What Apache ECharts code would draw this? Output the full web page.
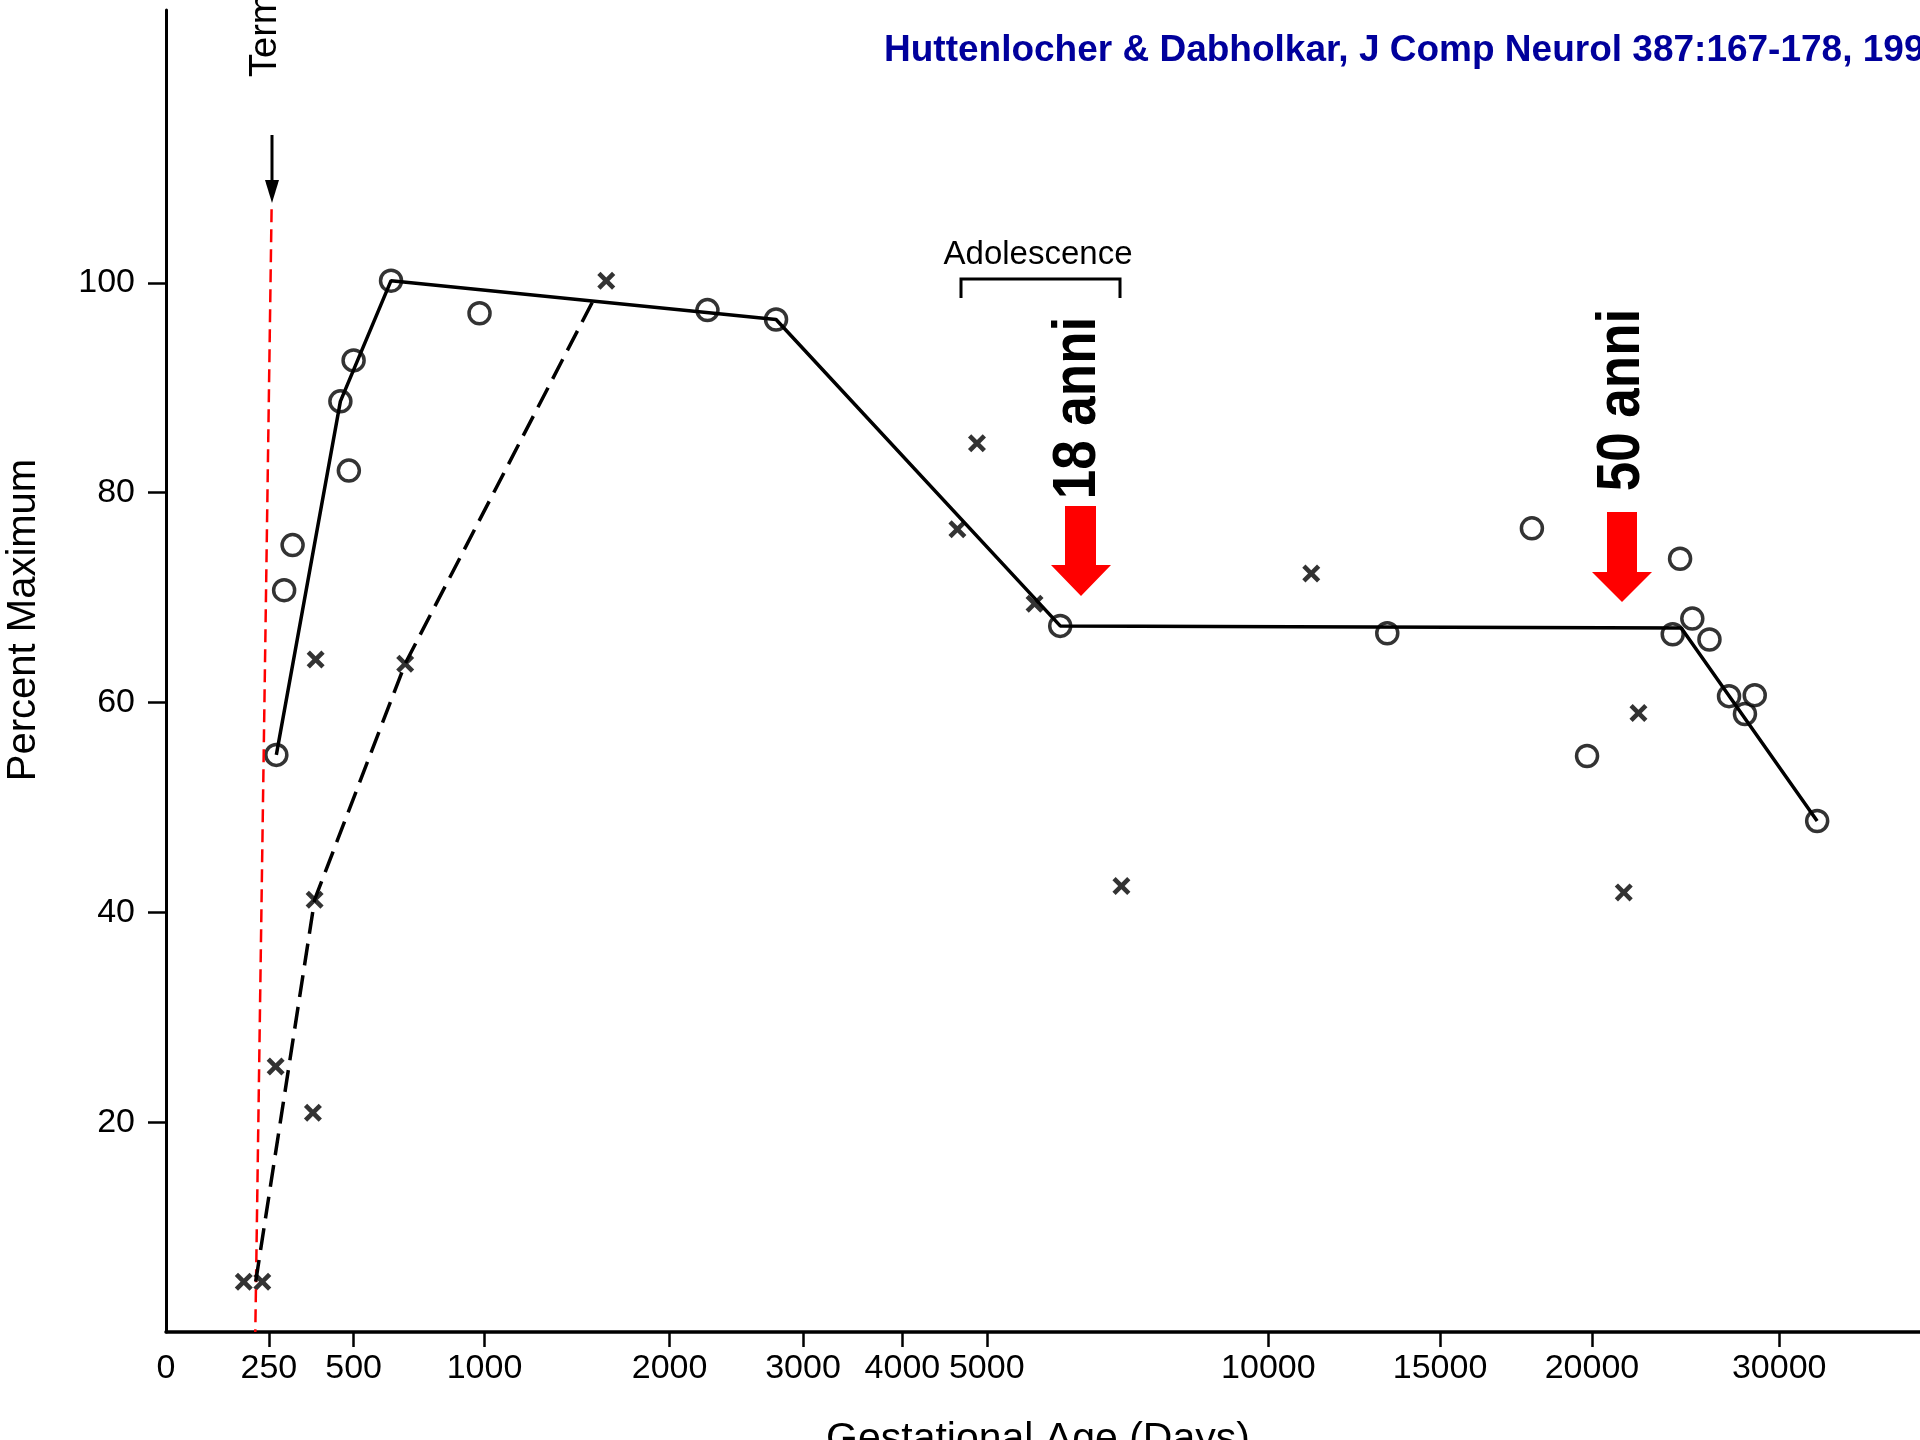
<!DOCTYPE html>
<html>
<head>
<meta charset="UTF-8">
<title>Synaptic density vs age</title>
<script src="https://cdn.jsdelivr.net/npm/echarts@6/dist/echarts.min.js"></script>
<style>
  html, body { margin: 0; padding: 0; background: #fff; }
  #main { width: 1920px; height: 1440px; }
</style>
</head>
<body>
<div id="main"></div>
<script>
// x axis: printed tick labels (days) and where each one sits along the axis
var xTickDays = [0, 250, 500, 1000, 2000, 3000, 4000, 5000, 10000, 15000, 20000, 30000];
var xTickAt   = [0, 0.323, 0.589, 1, 1.581, 2, 2.312, 2.577, 3.461, 4, 4.477, 5.065];
var yTicks = [20, 40, 60, 80, 100];

// open circles
var circleDays = [272, 295, 320, 461, 486, 500, 643, 981, 2284, 2798, 6304, 13464,
                  18024, 19839, 24314, 24706, 25359, 26275, 27320, 28170, 28693, 32026];
var circleVals = [55.0, 70.7, 75.0, 88.7, 82.1, 92.6, 100.2, 97.1, 97.4, 96.5, 67.3, 66.6,
                  76.6, 54.9, 66.5, 73.7, 68.0, 66.0, 60.6, 58.9, 60.7, 48.7];

// crosses
var crossDays = [189, 234, 270, 380, 385, 388, 697, 1658, 4652, 4884, 5848, 7391, 11250, 21699, 22484];
var crossVals = [4.8, 4.8, 25.3, 20.9, 41.2, 64.1, 63.7, 100.2, 76.5, 84.7, 69.4, 42.5, 72.3, 41.9, 59.0];

// fitted lines
var solidDays = [272, 461, 643, 2798, 6304, 24771, 32026];
var solidVals = [55.0, 88.7, 100.2, 96.5, 67.3, 67.1, 48.7];
var dashDays = [218, 385, 697, 1590];
var dashVals = [4.8, 41.2, 63.7, 98.4];

// term marker (red dashed)
var termDays = [258, 217];
var termVals = [107, 0];

// days -> axis position, piecewise between the printed ticks
function toAxis(d) {
  var n = xTickDays.length;
  var i = 0;
  while (i < n - 2 && d > xTickDays[i + 1]) i++;
  var t = (d - xTickDays[i]) / (xTickDays[i + 1] - xTickDays[i]);
  return xTickAt[i] + t * (xTickAt[i + 1] - xTickAt[i]);
}
function pairs(days, vals) {
  return days.map(function (d, i) { return [toAxis(d), vals[i]]; });
}

var crossPath = 'path://M0,1.8L1.8,0L5,3.2L8.2,0L10,1.8L6.8,5L10,8.2L8.2,10L5,6.8L1.8,10L0,8.2L3.2,5Z';
var sans = '"Liberation Sans", Arial, sans-serif';

var chart = echarts.init(document.getElementById('main'));

var option = {
  backgroundColor: '#fff',
  animation: false,
  grid: { left: 166, right: 0, top: 10, bottom: 108 },
  xAxis: {
    type: 'value',
    min: 0,
    max: 5.507,
    axisLine: { show: true, lineStyle: { color: '#000', width: 3.5 } },
    axisTick: { show: true, customValues: xTickAt.slice(1), length: 15, lineStyle: { color: '#000', width: 2.5 } },
    axisLabel: {
      customValues: xTickAt,
      color: '#000',
      fontFamily: sans,
      fontSize: 34,
      margin: 20,
      formatter: function (v) {
        for (var i = 0; i < xTickAt.length; i++) {
          if (Math.abs(xTickAt[i] - v) < 1e-6) return String(xTickDays[i]);
        }
        return '';
      }
    },
    splitLine: { show: false }
  },
  yAxis: {
    type: 'value',
    min: 0,
    max: 126,
    axisLine: { show: true, lineStyle: { color: '#000', width: 3 } },
    axisTick: { show: true, customValues: yTicks, length: 18, lineStyle: { color: '#000', width: 2.5 } },
    axisLabel: { customValues: yTicks, color: '#000', fontFamily: sans, fontSize: 34, margin: 31 },
    splitLine: { show: false }
  },
  series: [
    {
      name: 'term', type: 'line', data: pairs(termDays, termVals), showSymbol: false, silent: true,
      lineStyle: { color: '#ff0000', width: 2.5, type: [13, 7] }
    },
    {
      name: 'fit dashed', type: 'line', data: pairs(dashDays, dashVals), showSymbol: false,
      lineStyle: { color: '#000', width: 3.5, type: [22, 10] }
    },
    {
      name: 'fit', type: 'line', data: pairs(solidDays, solidVals), showSymbol: false,
      lineStyle: { color: '#000', width: 3.5 }
    },
    {
      name: 'crosses', type: 'scatter', data: pairs(crossDays, crossVals),
      symbol: crossPath, symbolSize: 18, itemStyle: { color: '#000' }
    },
    {
      name: 'circles', type: 'scatter', data: pairs(circleDays, circleVals),
      symbol: 'circle', symbolSize: 21,
      itemStyle: { color: '#fff', borderColor: '#000', borderWidth: 3.5 }
    }
  ],
  graphic: [
    // title
    { type: 'text', left: 884, top: 32,
      style: { text: 'Huttenlocher & Dabholkar, J Comp Neurol 387:167-178, 1997',
               fill: '#00009c', font: 'bold 37px ' + sans } },
    // axis titles
    { type: 'text', x: 24, y: 620, rotation: Math.PI / 2,
      style: { text: 'Percent Maximum', fill: '#000', font: '40px ' + sans, align: 'center', verticalAlign: 'middle' } },
    { type: 'text', x: 1038, y: 1419,
      style: { text: 'Gestational Age (Days)', fill: '#000', font: '41px ' + sans, align: 'center', verticalAlign: 'top' } },
    // Term
    { type: 'text', x: 266, y: 77, rotation: Math.PI / 2,
      style: { text: 'Term', fill: '#000', font: '38px ' + sans, align: 'left', verticalAlign: 'middle' } },
    { type: 'line', shape: { x1: 272, y1: 135, x2: 272, y2: 185 }, style: { stroke: '#000', lineWidth: 3 } },
    { type: 'polygon', shape: { points: [[265, 180], [279, 180], [272, 203]] }, style: { fill: '#000' } },
    // Adolescence
    { type: 'text', x: 1038, y: 255,
      style: { text: 'Adolescence', fill: '#000', font: '33px ' + sans, align: 'center', verticalAlign: 'middle' } },
    { type: 'polyline', shape: { points: [[961, 298], [961, 279], [1120, 279], [1120, 298]] },
      style: { stroke: '#000', lineWidth: 3, fill: null } },
    // 18 anni
    { type: 'text', x: 1078, y: 408, rotation: Math.PI / 2, scaleY: 1.15,
      style: { text: '18 anni', fill: '#000', font: 'bold 53px ' + sans, align: 'center', verticalAlign: 'middle' } },
    { type: 'polygon', shape: { points: [[1065, 506], [1096, 506], [1096, 565], [1111, 565], [1081, 596], [1051, 565], [1065, 565]] },
      style: { fill: '#ff0000' } },
    // 50 anni
    { type: 'text', x: 1622, y: 400, rotation: Math.PI / 2, scaleY: 1.15,
      style: { text: '50 anni', fill: '#000', font: 'bold 53px ' + sans, align: 'center', verticalAlign: 'middle' } },
    { type: 'polygon', shape: { points: [[1607, 512], [1637, 512], [1637, 572], [1652, 572], [1622, 602], [1592, 572], [1607, 572]] },
      style: { fill: '#ff0000' } }
  ]
};

chart.setOption(option);
</script>
</body>
</html>
